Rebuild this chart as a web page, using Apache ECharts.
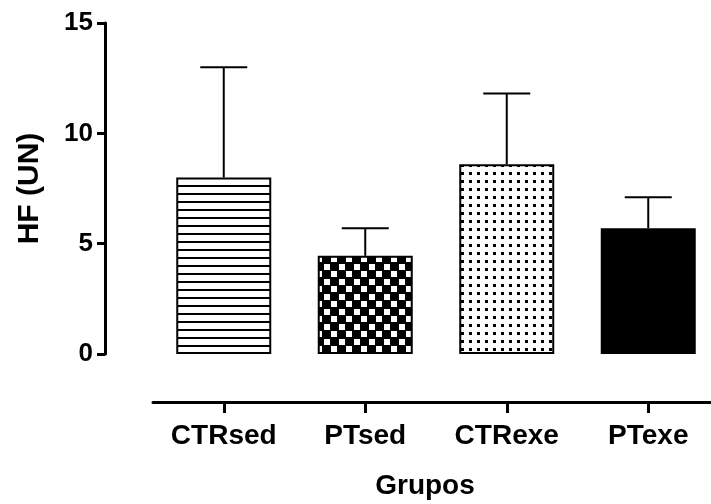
<!DOCTYPE html>
<html>
<head>
<meta charset="utf-8">
<script src="https://cdn.jsdelivr.net/npm/echarts@6/dist/echarts.min.js"></script>
<style>html,body{margin:0;padding:0;background:#fff}#c{width:711px;height:504px}</style>
</head>
<body>
<div id="c"></div>
<script>
// ---- data ----
const categories = ['CTRsed', 'PTsed', 'CTRexe', 'PTexe'];
const means = [8.0, 4.45, 8.6, 5.7];
const upper = [13.0, 5.7, 11.8, 7.1];
const yTicks = [0, 5, 10, 15];

// ---- patterns ----
function mk(w, h, draw) {
  const c = document.createElement('canvas');
  c.width = w; c.height = h;
  const g = c.getContext('2d');
  draw(g);
  return c;
}
const hLines = mk(8, 8, g => {
  g.fillStyle = '#fff'; g.fillRect(0, 0, 8, 8);
  g.fillStyle = '#000'; g.fillRect(0, 1, 8, 2);
});
const checker = mk(30, 30, g => {
  g.fillStyle = '#000'; g.fillRect(0, 0, 30, 30);
  g.fillStyle = '#fff';
  const s = [0, 8, 15, 23];
  for (let i = 0; i < 4; i++) for (let j = 0; j < 4; j++) {
    if ((i + j) % 2 === 0) g.fillRect(s[i] + 1, s[j] + 1, 6, 6);
  }
});
const dots = mk(8, 8, g => {
  g.fillStyle = '#fff'; g.fillRect(0, 0, 8, 8);
  g.fillStyle = '#000'; g.fillRect(5, 4, 3, 3);
});
const fills = [
  { image: hLines, repeat: 'repeat' },
  { image: checker, repeat: 'repeat' },
  { image: dots, repeat: 'repeat' },
  '#000'
];

const chart = echarts.init(document.getElementById('c'), null, { renderer: 'canvas' });
const font = 'Liberation Sans, Arial, sans-serif';
chart.setOption({
  animation: false,
  backgroundColor: '#fff',
  grid: { left: 153, top: 23, width: 566, height: 331, containLabel: false, outerBoundsMode: 'none' },
  xAxis: {
    type: 'category',
    data: categories,
    offset: 48,
    name: 'Grupos',
    nameLocation: 'middle',
    nameGap: 70,
    nameTextStyle: { fontFamily: font, fontWeight: 'bold', fontSize: 28, color: '#000', padding: [0, 22, 0, 0] },
    axisLine: { show: true, onZero: false, lineStyle: { color: '#000', width: 3 } },
    axisTick: { show: true, alignWithLabel: true, inside: false, length: 11, lineStyle: { color: '#000', width: 3 } },
    axisLabel: { margin: 20, fontFamily: font, fontWeight: 'bold', fontSize: 28, color: '#000' },
    splitLine: { show: false }
  },
  yAxis: {
    type: 'value',
    min: 0, max: 15, interval: 5,
    offset: 48,
    name: 'HF (UN)',
    nameLocation: 'middle',
    nameGap: 60,
    nameRotate: 90,
    nameTextStyle: { fontFamily: font, fontWeight: 'bold', fontSize: 30, color: '#000' },
    axisLine: { show: true, onZero: false, lineStyle: { color: '#000', width: 3 } },
    axisTick: { show: true, length: 8, lineStyle: { color: '#000', width: 3 } },
    axisLabel: {
      margin: 12, fontFamily: font, fontWeight: 'bold', fontSize: 26, color: '#000',
      formatter: v => (yTicks.indexOf(v) >= 0 ? String(v) : '')
    },
    splitLine: { show: false }
  },
  series: [
    {
      type: 'bar',
      barWidth: 95,
      data: means.map((v, i) => ({
        value: v,
        itemStyle: { color: fills[i], borderColor: '#000', borderWidth: 2 }
      })),
      z: 2
    },
    {
      type: 'custom',
      z: 3,
      data: categories.map((c, i) => [i, means[i], upper[i]]),
      renderItem: (params, api) => {
        const x = api.value(0);
        const base = api.coord([x, api.value(1)]);
        const top = api.coord([x, api.value(2)]);
        const hw = api.size([1, 0])[0] * 0.166;
        const st = { stroke: '#000', lineWidth: 2 };
        return {
          type: 'group',
          children: [
            { type: 'line', shape: { x1: base[0], y1: base[1], x2: top[0], y2: top[1] }, style: st },
            { type: 'line', shape: { x1: top[0] - hw, y1: top[1], x2: top[0] + hw, y2: top[1] }, style: st }
          ]
        };
      }
    }
  ]
});
</script>
</body>
</html>
